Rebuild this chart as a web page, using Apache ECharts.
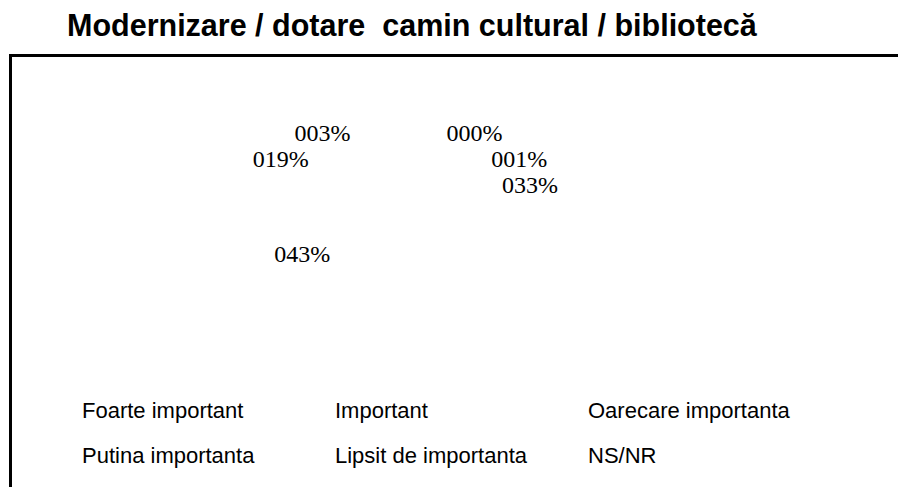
<!DOCTYPE html>
<html>
<head>
<meta charset="utf-8">
<script src="https://cdn.jsdelivr.net/npm/echarts@6/dist/echarts.min.js"></script>
<style>
html,body{margin:0;padding:0;background:#fff;}
#chart{width:898px;height:487px;}
</style>
</head>
<body>
<div id="chart"></div>
<script>
const titleText = 'Modernizare / dotare  camin cultural / bibliotecă';
const categories = ['Foarte important', 'Important', 'Oarecare importanta', 'Putina importanta', 'Lipsit de importanta', 'NS/NR'];
const values = [33, 43, 19, 3, 0, 1];

// legend laid out in three columns of two rows (row-major order as in the reference)
const legendColumnsLeft = [72, 325, 578];
const legends = legendColumnsLeft.map((left, col) => ({
  data: categories.filter((c, i) => i % 3 === col),
  left: left, top: 390,
  orient: 'vertical',
  itemWidth: 0, itemHeight: 30, itemGap: 15,
  icon: 'rect',
  itemStyle: {opacity: 0},
  selectedMode: false,
  textStyle: {fontFamily: 'Liberation Sans', fontSize: 22, color: '#000'}
}));

const chart = echarts.init(document.getElementById('chart'), null, {renderer: 'svg'});
const option = {
  backgroundColor: '#fff',
  animation: false,
  title: {
    text: titleText,
    left: 67, top: 9, padding: 0,
    textStyle: {fontFamily: 'Liberation Sans', fontWeight: 'bold', fontSize: 30.5, color: '#000'}
  },
  graphic: [{
    type: 'rect', silent: true,
    shape: {x: 10.5, y: 55.5, width: 1200, height: 1200},
    style: {fill: 'none', stroke: '#000', lineWidth: 3}
  }],
  legend: legends,
  series: [{
    type: 'pie',
    center: [400, 196],
    radius: [0, 20],
    startAngle: 85,
    clockwise: true,
    avoidLabelOverlap: true,
    silent: true,
    itemStyle: {color: 'rgba(0,0,0,0)', borderWidth: 0},
    emphasis: {disabled: true},
    label: {
      show: true, position: 'outside',
      fontFamily: 'Liberation Serif', fontSize: 24, color: '#000',
      formatter: p => String(Math.round(p.value)).padStart(3, '0') + '%'
    },
    labelLine: {show: false, length: 43, length2: 40},
    data: categories.map((c, i) => ({name: c, value: values[i]}))
  }]
};
chart.setOption(option);
</script>
</body>
</html>
